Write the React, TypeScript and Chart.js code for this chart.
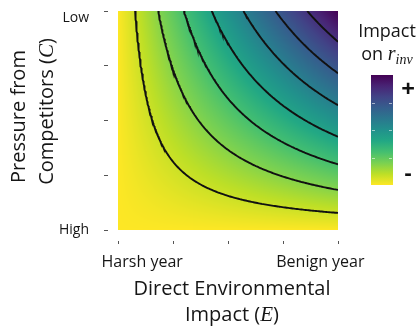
import React, { useEffect, useRef } from 'react';
import { Chart, registerables } from 'chart.js';

Chart.register(...registerables);

// ---- data ----
const E_TICKS = [0, 0.25, 0.5, 0.75, 1];
const E_LABEL_POS = [0.11, 0.92];
const E_LABELS = ['Harsh year', 'Benign year'];
const C_TICKS = [0, 0.25, 0.5, 0.75, 1];
const C_TICK_LABELS = ['High', '', '', '', 'Low'];
// impact field on a grid (rows: C from High to Low pressure, cols: E from harsh to benign)
const FIELD_E = [0, 1];
const FIELD_C = [0, 1];
const FIELD_VALUES = [
  [0, 0],
  [0, 1],
];
const CONTOUR_LEVELS = [0.078, 0.183, 0.3, 0.426, 0.57, 0.716, 0.86];
const COLORBAR_TICKS = [0.25, 0.5, 0.75];

// ---- styles ----
const VIRIDIS = ['#440154', '#482475', '#414487', '#355f8d', '#2a788e', '#21918c', '#22a884', '#44bf70', '#7ad151', '#bddf26', '#fde725'];
const SANS = "'Open Sans', 'DejaVu Sans', sans-serif";
const SERIF = "'Liberation Serif', 'DejaVu Serif', serif";
const TEXT = '#161616';

function hexToRgb(h: string): number[] {
  return [parseInt(h.slice(1, 3), 16), parseInt(h.slice(3, 5), 16), parseInt(h.slice(5, 7), 16)];
}
const VIR_RGB = VIRIDIS.map(hexToRgb);
function viridis(t: number): number[] {
  const tt = Math.max(0, Math.min(1, t)) * (VIR_RGB.length - 1);
  const i = Math.min(VIR_RGB.length - 2, Math.floor(tt));
  const f = tt - i;
  const a = VIR_RGB[i], b = VIR_RGB[i + 1];
  return [a[0] + (b[0] - a[0]) * f, a[1] + (b[1] - a[1]) * f, a[2] + (b[2] - a[2]) * f];
}

function segIndex(arr: number[], v: number): number {
  for (let i = 0; i < arr.length - 2; i++) if (v <= arr[i + 1]) return i;
  return arr.length - 2;
}
function fieldAt(e: number, c: number): number {
  const i = segIndex(FIELD_E, e), j = segIndex(FIELD_C, c);
  const u = (e - FIELD_E[i]) / (FIELD_E[i + 1] - FIELD_E[i]);
  const w = (c - FIELD_C[j]) / (FIELD_C[j + 1] - FIELD_C[j]);
  const v00 = FIELD_VALUES[j][i], v10 = FIELD_VALUES[j][i + 1];
  const v01 = FIELD_VALUES[j + 1][i], v11 = FIELD_VALUES[j + 1][i + 1];
  return v00 * (1 - u) * (1 - w) + v10 * u * (1 - w) + v01 * (1 - u) * w + v11 * u * w;
}
const FIELD_MIN = Math.min(...FIELD_VALUES.flat());
const FIELD_MAX = Math.max(...FIELD_VALUES.flat());

function solveC(e: number, L: number): number | null {
  for (let j = 0; j < FIELD_C.length - 1; j++) {
    const f0 = fieldAt(e, FIELD_C[j]), f1 = fieldAt(e, FIELD_C[j + 1]);
    if (f0 !== f1 && (f0 - L) * (f1 - L) <= 0) return FIELD_C[j] + ((L - f0) / (f1 - f0)) * (FIELD_C[j + 1] - FIELD_C[j]);
  }
  return null;
}
function solveE(c: number, L: number): number | null {
  for (let i = 0; i < FIELD_E.length - 1; i++) {
    const f0 = fieldAt(FIELD_E[i], c), f1 = fieldAt(FIELD_E[i + 1], c);
    if (f0 !== f1 && (f0 - L) * (f1 - L) <= 0) return FIELD_E[i] + ((L - f0) / (f1 - f0)) * (FIELD_E[i + 1] - FIELD_E[i]);
  }
  return null;
}
function contourPoints(L: number) {
  const pts: { x: number; y: number }[] = [];
  const N = 150;
  for (let k = 0; k <= N; k++) {
    const s = k / N;
    const c = solveC(s, L);
    if (c !== null) pts.push({ x: s, y: c });
    const e = solveE(s, L);
    if (e !== null) pts.push({ x: e, y: s });
  }
  pts.sort((a, b) => (a.x - b.x) || (b.y - a.y));
  return pts;
}

type Run = { text: string; font: string; dy?: number };
function drawRuns(ctx: CanvasRenderingContext2D, runs: Run[], cx: number, baseline: number) {
  let total = 0;
  const widths = runs.map((r) => {
    ctx.font = r.font;
    const w = ctx.measureText(r.text).width;
    total += w;
    return w;
  });
  let x = cx - total / 2;
  ctx.textAlign = 'left';
  ctx.textBaseline = 'alphabetic';
  runs.forEach((r, i) => {
    ctx.font = r.font;
    ctx.fillText(r.text, x, baseline + (r.dy || 0));
    x += widths[i];
  });
}

const heatPlugin = {
  id: 'heatField',
  beforeDatasetsDraw(chart: any) {
    const { ctx, chartArea: a, scales } = chart;
    const xs = scales.x, ys = scales.y;
    const w = Math.round(a.right - a.left), h = Math.round(a.bottom - a.top);
    const off = document.createElement('canvas');
    off.width = w;
    off.height = h;
    const octx = off.getContext('2d')!;
    const img = octx.createImageData(w, h);
    for (let py = 0; py < h; py++) {
      const c = ys.getValueForPixel(a.top + py + 0.5);
      for (let px = 0; px < w; px++) {
        const e = xs.getValueForPixel(a.left + px + 0.5);
        const v = (fieldAt(Math.max(0, Math.min(1, e)), Math.max(0, Math.min(1, c))) - FIELD_MIN) / (FIELD_MAX - FIELD_MIN);
        const col = viridis(1 - v);
        const k = (py * w + px) * 4;
        img.data[k] = col[0];
        img.data[k + 1] = col[1];
        img.data[k + 2] = col[2];
        img.data[k + 3] = 255;
      }
    }
    octx.putImageData(img, 0, 0);
    ctx.drawImage(off, a.left, a.top, w, h);
  },
};

const overlayPlugin = {
  id: 'overlay',
  afterDraw(chart: any) {
    const { ctx, chartArea: a } = chart;
    ctx.save();
    ctx.fillStyle = TEXT;
    const titleFont = `20px ${SANS}`;
    const mathFont = `italic 21px ${SERIF}`;
    const midX = (a.left + a.right) / 2 + 4;
    // x-axis title
    drawRuns(ctx, [{ text: 'Direct Environmental', font: titleFont }], midX, 295);
    drawRuns(ctx, [
      { text: 'Impact (', font: titleFont },
      { text: 'E', font: mathFont },
      { text: ')', font: titleFont },
    ], midX, 321);
    // y-axis title
    const midY = (a.top + a.bottom) / 2;
    ctx.save();
    ctx.translate(25, midY - 4);
    ctx.rotate(-Math.PI / 2);
    drawRuns(ctx, [{ text: 'Pressure from', font: titleFont }], 0, 0);
    ctx.restore();
    ctx.save();
    ctx.translate(53, midY - 9);
    ctx.rotate(-Math.PI / 2);
    drawRuns(ctx, [
      { text: 'Competitors (', font: titleFont },
      { text: 'C', font: mathFont },
      { text: ')', font: titleFont },
    ], 0, 0);
    ctx.restore();

    // legend title
    drawRuns(ctx, [{ text: 'Impact', font: `18px ${SANS}` }], 387, 37);
    drawRuns(ctx, [
      { text: 'on ', font: `18px ${SANS}` },
      { text: 'r', font: `italic 20px ${SERIF}` },
      { text: 'inv', font: `italic 14px ${SERIF}`, dy: 4 },
    ], 387, 60);

    // colour bar
    const bx = 371, by = 75, bw = 22, bh = 110;
    const g = ctx.createLinearGradient(0, by, 0, by + bh);
    VIRIDIS.forEach((col, i) => g.addColorStop(i / (VIRIDIS.length - 1), col));
    ctx.fillStyle = g;
    ctx.fillRect(bx, by, bw, bh);
    ctx.strokeStyle = 'rgba(255,255,255,0.55)';
    ctx.lineWidth = 1;
    COLORBAR_TICKS.forEach((t) => {
      const yy = Math.round(by + bh * t) + 0.5;
      ctx.beginPath();
      ctx.moveTo(bx + 1, yy);
      ctx.lineTo(bx + 4, yy);
      ctx.moveTo(bx + bw - 4, yy);
      ctx.lineTo(bx + bw - 1, yy);
      ctx.stroke();
    });
    ctx.fillStyle = '#111';
    ctx.textAlign = 'center';
    ctx.textBaseline = 'middle';
    ctx.font = `bold 24px ${SANS}`;
    ctx.fillText('+', 408, 90);
    ctx.font = `bold 22px ${SANS}`;
    ctx.fillText('-', 408, 174);
    ctx.restore();
  },
};

export default function App() {
  const ref = useRef<HTMLCanvasElement | null>(null);
  useEffect(() => {
    if (!ref.current) return;
    const datasets = CONTOUR_LEVELS.map((L) => ({
      label: `level ${L}`,
      data: contourPoints(L),
      showLine: true,
      borderColor: '#111111',
      borderWidth: 1.9,
      pointRadius: 0,
      tension: 0,
      xAxisID: 'x',
      yAxisID: 'y',
    }));
    const chart = new Chart(ref.current, {
      type: 'scatter',
      data: { datasets },
      options: {
        animation: false,
        responsive: false,
        devicePixelRatio: 1,
        layout: { padding: { left: 0, top: 11, right: 81, bottom: 0 } },
        plugins: { legend: { display: false }, tooltip: { enabled: false } },
        scales: {
          x: {
            type: 'linear',
            position: 'bottom',
            min: 0,
            max: 1,
            weight: 0,
            afterBuildTicks: (s: any) => { s.ticks = E_TICKS.map((v) => ({ value: v })); },
            afterFit: (s: any) => { s.height = 16; s.paddingLeft = 0; s.paddingRight = 0; },
            grid: { drawOnChartArea: false, drawTicks: true, tickLength: 15, tickColor: '#555', tickWidth: 1, tickBorderDash: [0, 11, 3, 100] },
            border: { display: false },
            ticks: { display: false },
          },
          x2: {
            type: 'linear',
            position: 'bottom',
            min: 0,
            max: 1,
            weight: 1,
            afterBuildTicks: (s: any) => { s.ticks = E_LABEL_POS.map((v) => ({ value: v })); },
            afterFit: (s: any) => { s.height = 83; s.paddingLeft = 0; s.paddingRight = 0; },
            grid: { display: false, drawTicks: false },
            border: { display: false },
            ticks: {
              autoSkip: false,
              maxRotation: 0,
              padding: 7,
              color: TEXT,
              font: { family: SANS, size: 16 },
              callback: (_v: any, i: number) => E_LABELS[i],
            },
          },
          y: {
            type: 'linear',
            position: 'left',
            min: 0,
            max: 1,
            afterBuildTicks: (s: any) => { s.ticks = C_TICKS.map((v) => ({ value: v })); },
            afterFit: (s: any) => { s.width = 118; s.paddingTop = 0; s.paddingBottom = 0; },
            grid: { drawOnChartArea: false, drawTicks: true, tickLength: 14, tickColor: '#555', tickWidth: 1, tickBorderDash: [4, 100] },
            border: { display: false },
            ticks: {
              padding: 15,
              color: TEXT,
              font: { family: SANS, size: 14, lineHeight: 1 },
              callback: (_v: any, i: number) => (i === C_TICKS.length - 1 ? ['', C_TICK_LABELS[i]] : C_TICK_LABELS[i]),
            },
          },
        },
      },
      plugins: [heatPlugin, overlayPlugin],
    } as any);
    return () => chart.destroy();
  }, []);
  return (
    <div style={{ position: 'fixed', left: 0, top: 0, width: 419, height: 329, background: '#fff' }}>
      <canvas ref={ref} width={419} height={329} style={{ display: 'block' }} />
    </div>
  );
}
